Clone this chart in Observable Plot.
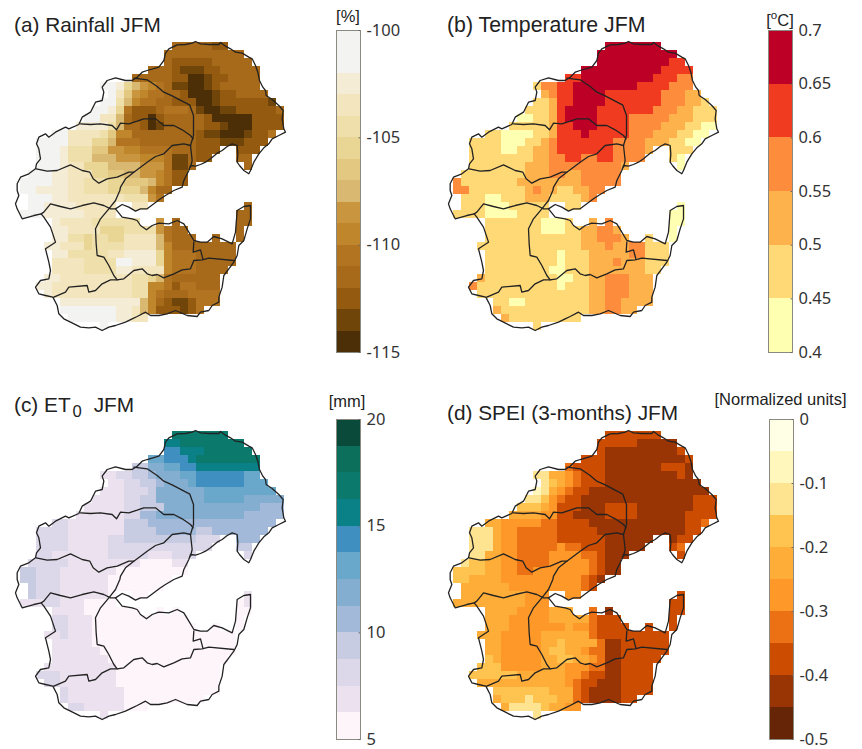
<!DOCTYPE html>
<html><head><meta charset="utf-8">
<script src="https://cdn.jsdelivr.net/npm/d3@7"></script>
<script src="https://cdn.jsdelivr.net/npm/@observablehq/plot@0.6"></script>
<style>
body{margin:0;background:#fff}
#page{position:relative;width:862px;height:749px;overflow:hidden;font-family:"Liberation Sans",Arial,sans-serif;color:#222}
#page>svg,#page>figure{position:absolute;margin:0}
.t{position:absolute;white-space:nowrap;line-height:0}
.t sup{line-height:0;font-size:70%}
.t sub{line-height:0;font-size:80%;margin:0 6px 0 2px}
</style></head><body><div id="page"></div>
<script>
// land cells per row: [first,last] column spans
const maskSpans=[
[[20,26]],[[19,28]],[[19,29]],[[17,30]],[[15,30]],[[11,30]],[[12,31]],[[11,32]],[[10,33]],[[9,33]],[[8,33]],[[5,32]],
[[3,31]],[[3,25],[28,30]],[[3,24],[28,29]],[[3,22],[29,29]],[[2,21]],[[1,21]],[[1,19]],[[2,18]],
[[2,12],[15,16],[29,29]],[[1,12],[28,29]],[[5,15],[18,18],[20,20],[28,29]],[[5,21],[28,28]],[[5,22],[25,25],[28,28]],
[[4,27]],[[5,27]],[[5,27]],[[5,26]],[[4,25]],[[3,25]],[[4,25]],[[6,25]],[[6,23]],[[7,16]],[[11,11]]];

// class breaks per row, "column:class"
const rainfallRows=[
"0:11 25:12 27:11","0:11","0:11 20:12 25:11","0:11 20:12 21:13 24:12 26:11",
"0:11 20:12 22:14 24:13 25:12 27:11","0:0 13:2 14:5 15:7 16:8 17:9 18:10 19:11 20:13 22:14 24:13 25:12 26:11",
"0:1 13:3 14:6 15:8 16:9 17:10 19:11 21:12 22:14 25:13 26:12 28:11","0:1 13:4 14:7 15:9 16:10 18:11 20:12 23:14 25:13 26:12 32:13",
"0:1 12:2 13:5 14:10 15:12 18:11 19:10 22:11 23:13 24:14 26:13 28:12 33:11","0:1 11:3 13:7 14:11 15:12 17:14 18:12 19:11 24:12 25:14 30:12",
"0:2 12:4 13:7 14:11 16:12 17:14 18:13 19:11 24:12 26:13 27:14 30:12","0:1 7:3 11:4 12:6 13:9 15:11 23:12 24:13 26:14 29:13 30:12 32:10",
"0:0 6:1 7:3 10:5 12:7 13:10 16:11 23:12 26:13 29:12","0:0 6:2 7:4 10:6 12:8 14:9 16:10 20:11 23:12",
"0:0 6:2 7:4 10:7 13:8 16:9 19:10 20:13 22:11 23:12 28:11","0:0 6:2 7:3 9:5 12:7 16:8 19:10 20:13 22:11",
"0:0 5:2 7:3 10:5 12:6 14:7 16:8 18:9 19:10 20:12","0:1 5:2 7:3 9:4 12:5 14:6 17:7 18:9 19:10 20:12",
"0:1 3:2 7:3 9:4 12:5 16:7 17:9 18:11","0:0 3:1 5:2 7:3 14:4 17:8 18:10",
"0:0 4:2 8:3 29:11","0:1 4:2 9:3 28:11","0:2 6:3 10:4 18:8 20:11","0:2 7:3 11:5 14:4 18:8 19:10 20:11",
"0:2 7:4 9:5 10:4 12:5 14:3 18:7 19:10 20:11","0:2 6:3 9:5 10:4 14:3 18:7 19:9 20:11",
"0:2 7:4 12:3 14:2 18:5 19:9 20:10 23:11","0:3 9:4 13:1 15:2 18:5 19:9 20:10 23:11",
"0:3 9:4 13:2 15:3 19:9 20:10 23:11","0:2 6:3 15:4 17:5 18:7 19:10 20:11",
"0:2 5:3 15:4 17:9 19:10 20:12 21:10 23:11","0:2 5:3 15:4 17:9 18:10 19:11 22:10",
"0:2 16:7 17:9 18:11 19:12 20:13 22:12 23:10","0:1 13:2 15:3 16:7 17:9 18:12 21:13 22:12 23:10","0:1 9:0 13:2 15:3","0:0"];

const temperatureRows=[
"0:5","0:5","0:5 28:4","0:5 27:4","0:4 17:5 26:4 29:3","0:1 12:3 14:4 16:5 24:4 28:3",
"0:2 13:3 14:4 16:5 20:4 27:3 30:2","0:1 13:2 14:4 16:5 20:4 27:3 30:2 32:1","0:1 13:2 14:4 15:5 19:4 26:3 29:2 31:1",
"0:0 11:1 13:2 14:4 15:5 19:4 23:3 28:2 31:1","0:1 13:2 14:4 16:5 19:4 23:3 27:2 30:1 32:0","0:1 7:0 11:1 13:2 14:4 17:5 18:4 23:3 26:2 29:1 31:0",
"0:1 7:0 10:1 12:2 13:3 14:4 21:3 25:2 28:1 30:0","0:1 7:0 9:1 11:2 13:3 14:4 21:3 25:2 28:1","0:1 11:2 13:3 15:4 17:3 19:4 21:3 25:2 28:1 29:0",
"0:1 10:2 13:3 22:2 29:0","0:1 10:2 13:3 15:2 17:3","0:3 2:1 9:2 15:2 17:3",
"0:3 3:1 10:2 11:3 12:2 14:1 16:2 18:3","0:3 2:1 5:0 7:1 10:2 13:1 17:2 18:3","0:1 5:0 8:1 29:0","0:1 5:0 9:1 28:0",
"0:1 12:0 15:1 18:2 20:3 28:0","0:1 12:0 15:1 17:2 19:3 21:2 28:0","0:1 17:2 19:3 22:2 25:1 28:0","0:1 17:2 20:3 21:2 23:3 25:1",
"0:1 14:0 15:1 18:2 23:3 25:1","0:1 14:0 15:1 18:2 21:3 22:2 25:1","0:1 13:0 15:1 18:2 25:1","0:2 5:1 14:0 16:1 18:2 20:3 23:2",
"0:3 4:1 14:0 15:1 18:2 20:3 23:2","0:1 18:2 20:3 23:2","0:1 8:0 10:1 18:2 20:3 22:2","0:2 7:1 18:2 20:3 22:2","0:2 8:1","0:1"];

const et0Rows=[
"0:9","0:8 21:9","0:7 21:8 24:9","0:6 19:7 22:8 23:9","0:3 17:5 19:6 21:7 23:8","0:1 13:2 15:3 17:4 18:5 21:6 23:7 29:6",
"0:1 14:2 16:3 18:4 19:5 22:6 23:7 29:6","0:1 14:2 17:3 18:5 24:6","0:1 14:2 16:3 18:5 24:6 29:5","0:1 14:2 16:3 19:5 31:4",
"0:1 14:2 16:4 18:5 29:4","0:2 7:1 14:3 17:4","0:2 7:1 14:3 18:4 23:3 25:4","0:2 7:1 12:2 14:3 23:2 28:4","0:2 7:1 12:2 23:2 28:3",
"0:2 5:1 12:2 17:1 20:2","0:2 7:1 16:0 20:1","0:3 3:2 6:1 13:0","0:3 3:2 6:1 12:0","0:3 3:2 6:1 12:0","0:3 3:2 6:1 12:0 29:1",
"0:1 4:2 6:1 9:0 29:1","0:1 9:0","0:2 7:1 10:0","0:2 7:1 10:0","0:1 6:2 7:1 10:0","0:1 10:0","0:1 11:0","0:1 12:0","0:1 13:0",
"0:2 6:1 13:0","0:2 6:1 13:0","0:2 7:1 14:0","0:2 7:1 14:0","0:2 9:1 14:0","0:1"];

const speiRows=[
"0:7","0:7 24:8","0:7 20:8 29:7","0:7 20:8 30:7","0:6 16:7 20:8 27:7 30:8","0:2 13:4 15:5 16:6 17:7 20:8 29:7 30:8",
"0:2 13:3 14:4 15:5 16:6 17:7 20:8","0:1 12:2 13:4 14:5 15:6 16:7 18:8","0:2 12:3 13:5 14:6 15:7 17:8 31:7","0:3 12:4 13:5 14:7 17:8 20:7 24:8 31:7",
"0:4 12:5 14:7 16:8 20:7 24:8 30:7","0:4 7:5 12:6 14:7 18:8 30:7 32:6","0:2 6:4 7:5 9:6 14:7 19:8 30:7","0:2 6:4 7:5 9:6 14:7 20:8 29:7",
"0:2 6:4 7:5 9:6 14:5 15:6 17:7 20:8 28:7 29:6","0:2 5:4 7:5 9:6 13:5 17:6 19:7 20:8 29:7","0:2 3:3 5:4 7:5 9:6 13:5 18:6 19:7 20:8","0:3 5:4 7:5 9:6 11:5 18:6 19:7 20:8",
"0:3 3:4 7:5 17:6 18:7 19:8","0:4 8:5 17:6 18:7","0:4 10:5 29:7","0:4 10:5 28:7","0:4 9:5 13:4 18:6 19:7 20:8 21:7","0:4 8:5 13:4 18:6 19:7",
"0:4 8:5 15:4 16:5 18:6 19:7","0:4 7:5 12:4 18:6 19:7","0:4 7:5 12:4 14:3 15:4 19:6 20:8 22:7","0:4 7:5 12:4 13:3 15:4 17:5 18:6 20:8 22:7",
"0:3 6:4 7:5 12:4 14:3 16:4 18:5 19:6 20:8 22:7","0:3 7:5 12:4 15:5 18:6 20:8 22:7","0:3 9:4 15:5 17:6 18:7 20:8 22:7","0:4 15:5 16:6 17:7 19:8 22:7",
"0:3 13:4 16:6 17:7 18:8 22:7","0:4 7:3 10:2 11:3 14:4 16:6 17:7 18:8 22:7","0:4 8:2 12:3 13:4 15:5","0:2"];

// catchment lines in map units (24 units = one grid cell)
const gridOrigin=[35,37], cellSize=24;
const outerCoast=[[495,68],[505,55],[530,43],[555,42],[575,38],[585,33],[600,40],[625,42],[655,42],[660,36],[675,47],[690,55],[705,65],[725,68],[745,80],[755,85],[765,105],[772,125],[777,150],[787,170],[795,180],[797,195],[815,207],[835,225],[848,240],[845,265],[850,295],[855,305],[835,315],[815,325],[805,340],[790,352],[775,370],[760,395],[750,420],[745,430],[730,420],[717,405],[710,395],[712,370],[710,345],[695,340],[680,348],[665,360],[650,368],[630,385],[615,395],[600,402],[585,407],[570,405],[565,420],[550,450],[545,470],[520,480],[495,495],[480,505],[460,520],[440,535],[420,535],[405,542],[385,530],[365,522],[345,535],[365,560],[395,565],[410,570],[420,585],[438,598],[455,585],[475,578],[505,580],[530,570],[550,580],[565,605],[580,630],[600,635],[620,635],[640,618],[665,625],[695,640],[705,605],[710,540],[730,528],[750,525],[750,565],[740,595],[730,630],[715,645],[710,675],[700,695],[685,715],[670,735],[665,770],[655,800],[655,815],[635,825],[625,840],[600,845],[590,858],[560,855],[525,840],[500,850],[475,855],[450,855],[435,845],[410,858],[395,865],[375,875],[345,885],[325,890],[305,900],[285,890],[265,892],[240,890],[210,875],[190,865],[175,850],[170,825],[157,800],[135,795],[115,790],[105,770],[120,750],[145,745],[150,720],[145,695],[135,655],[165,635],[150,590],[130,560],[122,550],[100,555],[65,565],[50,535],[45,520],[55,495],[50,480],[50,460],[60,440],[85,430],[105,415],[108,400],[120,385],[115,355],[108,340],[115,320],[135,310],[145,320],[165,305],[195,290],[205,295],[235,282],[245,260],[270,245],[285,215],[305,210],[310,185],[305,170],[320,150],[345,142],[375,150],[395,150],[410,140],[425,125],[440,120],[475,110],[490,90],[495,68]];
const lineNorth=[[400,143],[440,148],[470,168],[490,185],[515,196],[545,212],[568,224],[579,255],[579,315],[570,345],[575,390],[570,410]];
const lineCentral=[[240,280],[270,282],[300,280],[335,285],[348,298],[360,278],[385,280],[410,272],[430,265],[465,265],[490,285],[520,285],[545,298],[570,315],[578,325]];
const lineWest=[[107,415],[140,422],[170,420],[210,403],[245,420],[268,425],[278,445],[295,458],[320,445],[350,440],[385,425],[400,425]];
const lineMid=[[570,345],[550,340],[515,345],[490,370],[465,378],[440,395],[420,410],[400,425],[375,445],[360,470],[358,480],[345,510],[325,535],[300,565],[285,595],[287,640],[290,675],[310,680],[325,705],[340,735],[350,748]];
const lineSouthWest=[[122,550],[130,545],[150,520],[180,528],[210,535],[245,525],[280,517],[310,525],[330,535],[345,535]];
const lineSouth=[[160,800],[195,785],[205,770],[260,765],[265,785],[285,780],[305,760],[330,748],[350,748],[370,745],[400,720],[425,715],[440,730],[455,735],[470,732],[490,742],[520,730],[545,718],[570,715],[580,690],[605,688],[625,683],[700,690]];
const lineEast=[[580,635],[578,665],[600,658],[607,685]];
const catchmentLines=[outerCoast,lineNorth,lineCentral,lineWest,lineMid,lineSouthWest,lineSouth,lineEast];

// colour classes, from lowest value up
const rainfallColors=["#4d2f07","#6f4509","#935a10","#a76a1a","#b27420","#c0862c","#c9963f","#d9b871","#e3c882","#e9d594","#efdfaa","#f3e6bf","#f4ecd4","#f3f3f1","#f3f3f1"];
const temperatureColors=["#ffffb2","#fed976","#feb24c","#fd8d3c","#f03b20","#bd0026"];
const et0Colors=["#fdf5fa","#ece2ef","#dcd7e9","#c8cce3","#a2b9da","#84aed0","#69a7cb","#3f8fc1","#0a8087","#0b7a6c","#0b6f5b","#0a4a3a"];
const speiColors=["#662506","#993404","#cc4c02","#ec7014","#fe9929","#feae38","#fec44f","#fee391","#fff7bc","#ffffe5"];

const rainfallTicks=[-100,-105,-110,-115];
const temperatureTicks=[0.7,0.65,0.6,0.55,0.5,0.45,0.4];
const et0Ticks=[20,15,10,5];
const speiTicks=[0,-0.1,-0.2,-0.3,-0.4,-0.5];

const page=document.getElementById("page");
function place(node,left,top){node.style.position="absolute";node.style.left=left+"px";node.style.top=top+"px";page.appendChild(node);}
function text(html,x,y,size,center){const d=document.createElement("div");d.className="t";d.innerHTML=html;d.style.left=x+"px";d.style.top=y+"px";d.style.fontSize=size+"px";if(center)d.style.transform="translateX(-50%)";page.appendChild(d);}

function decode(rows,toValue){
  const cells=[];
  rows.forEach((row,i)=>{
    const breaks=row.split(" ").map(b=>b.split(":").map(Number));
    for(const [a,b] of maskSpans[i]) for(let j=a;j<=b;j++){
      let k=0; for(const [c,v] of breaks) if(c<=j) k=v;
      cells.push({col:j,row:i,value:toValue(k)});
    }
  });
  return cells;
}
function thresholds(lo,step,n){return d3.range(1,n).map(k=>lo+step*k);}

function mapPanel(rows,toValue,colorScale,left,top){
  const cells=decode(rows,toValue);
  const segs=catchmentLines.flatMap((l,id)=>l.map(([x,y])=>({id,x,y})));
  const svg=Plot.plot({width:320,height:360,margin:0,style:{background:"transparent"},
    x:{domain:[0,960],range:[0,320],axis:null},
    y:{domain:[-90,990],range:[0,360],axis:null},
    color:colorScale,
    marks:[
      Plot.rect(cells,{x1:d=>gridOrigin[0]+cellSize*d.col,x2:d=>gridOrigin[0]+cellSize*(d.col+1),
        y1:d=>gridOrigin[1]+cellSize*d.row,y2:d=>gridOrigin[1]+cellSize*(d.row+1),fill:"value",shapeRendering:"crispEdges"}),
      Plot.line(segs,{x:"x",y:"y",z:"id",stroke:"#222",strokeWidth:1.3,strokeLinejoin:"round"})
    ]});
  place(svg,left,top);
}
function colorbar(colorScale,lo,hi,n,ticks,left,top,barHeight){
  const step=(hi-lo)/n;
  const bands=d3.range(n).map(k=>({y1:lo+k*step,y2:lo+(k+1)*step,mid:lo+(k+.5)*step}));
  const svg=Plot.plot({width:94,height:barHeight+22,marginLeft:0,marginRight:70,marginTop:11,marginBottom:11,style:{background:"transparent"},
    x:{domain:[0,1],axis:null},
    y:{domain:[lo,hi],axis:null},
    color:colorScale,
    marks:[
      Plot.rect(bands,{x1:0,x2:1,y1:"y1",y2:"y2",fill:"mid",shapeRendering:"crispEdges"}),
      Plot.frame({stroke:"#8a8a80",strokeWidth:1}),
      Plot.ruleY(ticks,{x1:0.94,x2:1,stroke:"#666"}),
      Plot.axisY({anchor:"right",ticks,tickSize:0,tickPadding:6,tickFormat:d=>String(d),fontSize:16.5,fill:"#333",label:null})
    ]});
  place(svg,left,top-11);
}
const rainScale={type:"threshold",domain:thresholds(-115,1,15),range:rainfallColors};
const tempScale={type:"threshold",domain:thresholds(0.4,0.05,6),range:temperatureColors};
const et0Scale={type:"threshold",domain:thresholds(5,1.25,12),range:et0Colors};
const speiScale={type:"threshold",domain:thresholds(-0.5,0.05,10),range:speiColors};

mapPanel(rainfallRows,k=>-100-(k+.5),rainScale,0,0);
mapPanel(temperatureRows,k=>0.4+0.05*(k+.5),tempScale,433,0);
mapPanel(et0Rows,k=>5+1.25*(k+.5),et0Scale,0,389);
mapPanel(speiRows,k=>-0.05*(k+.5),speiScale,433,389);

colorbar(rainScale,-115,-100,15,rainfallTicks,336,30,322);
colorbar(tempScale,0.4,0.7,6,temperatureTicks,768,30,322);
colorbar(et0Scale,5,20,12,et0Ticks,336,419,320);
colorbar(speiScale,-0.5,0,10,speiTicks,769,419,320);

text("(a) Rainfall JFM",14,25,20.8);
text("(b) Temperature JFM",447,25,21.3);
text("(c) ET<sub>0</sub> JFM",14,405,20.8);
text("(d) SPEI (3-months) JFM",447,413,20.8);
text("[%]",348,16,16.5,true);
text("[<sup>o</sup>C]",780,15,16.5,true);
text("[mm]",347,401,16.5,true);
text("[Normalized units]",780.5,399,16.5,true);
</script></body></html>
